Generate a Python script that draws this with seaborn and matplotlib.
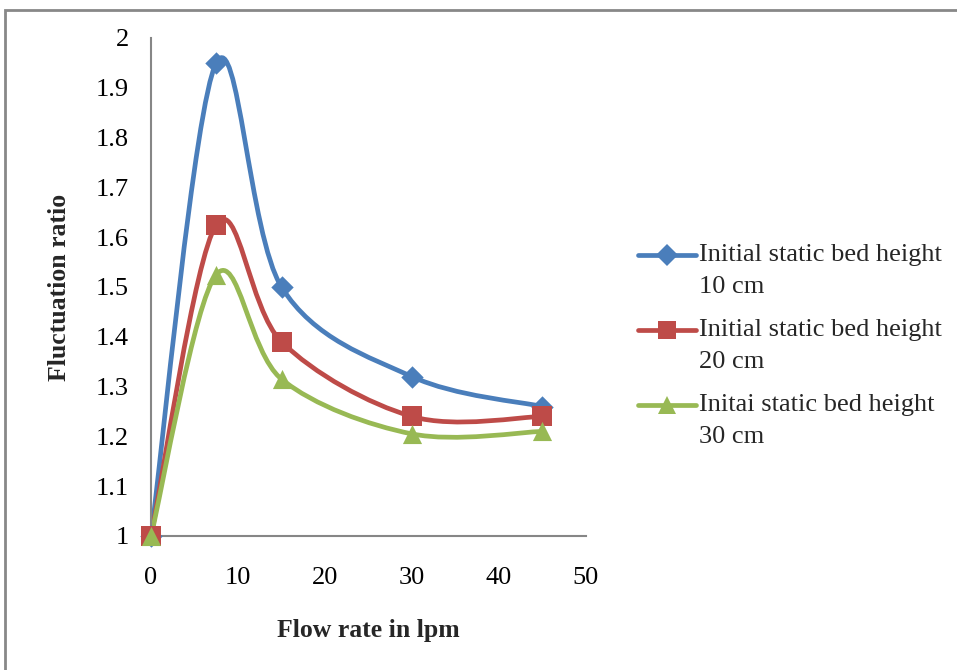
import numpy as np
import pandas as pd
import seaborn as sns
import matplotlib.pyplot as plt
from matplotlib.path import Path
from matplotlib.patches import PathPatch, Rectangle
from matplotlib.lines import Line2D
from matplotlib.legend_handler import HandlerLine2D

# Data
flow_rate = [0, 7.5, 15, 30, 45]
ratio_10cm = [1.0, 1.95, 1.50, 1.32, 1.26]
ratio_20cm = [1.0, 1.625, 1.39, 1.24, 1.24]
ratio_30cm = [1.0, 1.525, 1.315, 1.205, 1.21]
labels = ["Initial static bed height\n10 cm",
          "Initial static bed height\n20 cm",
          "Initai static bed height\n30 cm"]
colors = ["#4A7EBB", "#BE4B48", "#98B954"]
markers = ["D", "s", "^"]
msizes = [130, 190, 190]


def smooth_path(x, y):
    """Excel-style smoothed line as cubic Bezier segments (Catmull-Rom)."""
    pts = np.column_stack([x, y]).astype(float)
    n = len(pts)
    verts = [pts[0]]
    codes = [Path.MOVETO]
    for i in range(n - 1):
        p0 = pts[i - 1] if i > 0 else pts[i]
        p1 = pts[i]
        p2 = pts[i + 1]
        p3 = pts[i + 2] if i + 2 < n else pts[i + 1]
        c1 = p1 + (p2 - p0) / 6.0
        c2 = p2 - (p3 - p1) / 6.0
        verts += [c1, c2, p2]
        codes += [Path.CURVE4] * 3
    return Path(verts, codes)


class FirstLineHandler(HandlerLine2D):
    """Put the legend line next to the first text line, like Excel does."""
    def create_artists(self, legend, orig_handle, xdescent, ydescent,
                       width, height, fontsize, trans):
        shift = 0.57 * fontsize
        return super().create_artists(legend, orig_handle, xdescent,
                                      ydescent - 2 * shift, width, height,
                                      fontsize, trans)


sns.set_style("white")
plt.rcParams['font.family'] = ['Liberation Serif', 'DejaVu Serif']

fig = plt.figure(figsize=(9.57, 6.7), dpi=100)
ax = fig.add_axes([0.1578, 0.2, 0.6123 - 0.1578, 0.9433 - 0.2])

df = pd.DataFrame({
    "flow": flow_rate * 3,
    "ratio": ratio_10cm + ratio_20cm + ratio_30cm,
    "series": sum([[lab] * len(flow_rate) for lab in labels], []),
})

handles = []
for lab, col, mk, ms in zip(labels, colors, markers, msizes):
    sub = df[df["series"] == lab]
    ax.add_patch(PathPatch(smooth_path(sub["flow"].values, sub["ratio"].values),
                           facecolor="none", edgecolor=col, lw=3.4,
                           capstyle="round", joinstyle="round", zorder=2))
    sns.scatterplot(data=sub, x="flow", y="ratio", marker=mk, s=ms, color=col,
                    edgecolor=col, linewidth=0, ax=ax, zorder=3, legend=False,
                    clip_on=False)
    handles.append(Line2D([0], [0], color=col, lw=3.4, marker=mk,
                          markersize=np.sqrt(ms) * 0.95, markeredgewidth=0,
                          solid_capstyle="round"))

ax.set_xlim(0, 50)
ax.set_ylim(1, 2)
ax.set_xticks([0, 10, 20, 30, 40, 50])
ax.set_yticks([1, 1.1, 1.2, 1.3, 1.4, 1.5, 1.6, 1.7, 1.8, 1.9, 2])
ax.set_yticklabels(["1", "1.1", "1.2", "1.3", "1.4", "1.5", "1.6", "1.7", "1.8", "1.9", "2"])

for side in ["top", "right"]:
    ax.spines[side].set_visible(False)
for side in ["left", "bottom"]:
    ax.spines[side].set_color("#868686")
    ax.spines[side].set_linewidth(1.5)
ax.tick_params(axis="both", direction="out", length=7, width=1.5, color="#868686",
               labelsize=19, labelcolor="black")
ax.tick_params(axis="y", pad=9)
ax.tick_params(axis="x", pad=15)

ax.set_xlabel("Flow rate in lpm", fontsize=18.5, fontweight="bold", labelpad=22)
ax.set_ylabel("Fluctuation ratio", fontsize=18.5, fontweight="bold", labelpad=18)

leg = fig.legend(handles=handles, labels=labels, loc="upper left",
                 bbox_to_anchor=(0.642, 0.672), frameon=False, fontsize=19,
                 handlelength=2.2, handletextpad=0.1, labelspacing=0.8,
                 handler_map={Line2D: FirstLineHandler()})
for t in leg.get_texts():
    t.set_linespacing(1.6)

# outer chart-area frame
fig.patches.append(Rectangle((5 / 957, -0.05), 1.05, 0.985 + 0.05,
                             transform=fig.transFigure, fill=False,
                             edgecolor="#888888", lw=2))

fig.savefig("out.png", dpi=100)
